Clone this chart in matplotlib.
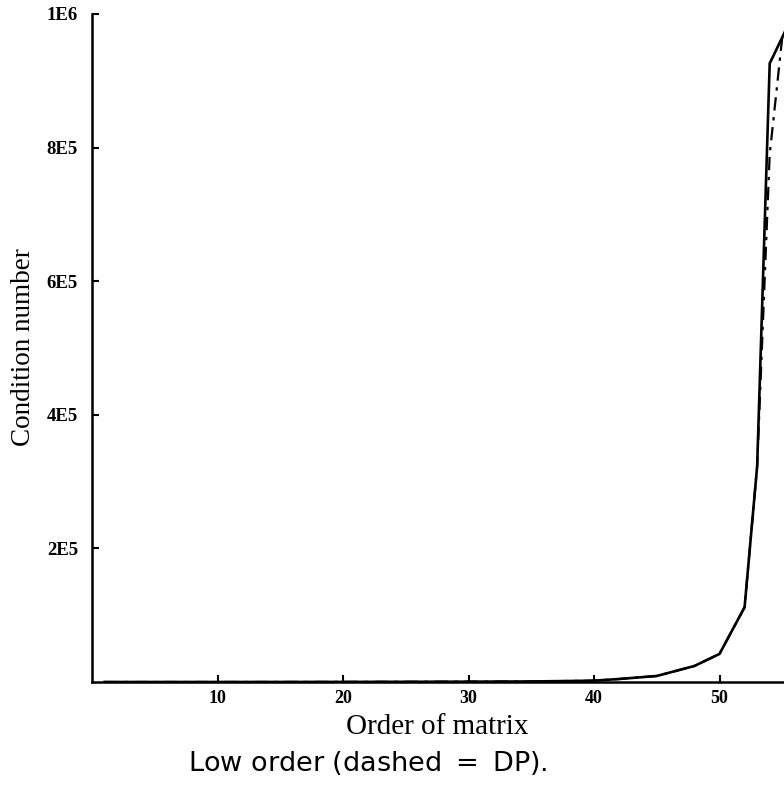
import matplotlib.pyplot as plt

# order of matrix and condition number (single precision = solid, DP = dash-dot)
order = [1, 5, 10, 15, 20, 25, 30, 35, 38, 40, 42, 45, 48, 50, 52, 53, 54, 55, 56]
cond_sp = [1, 5, 20, 60, 150, 300, 500, 800, 1500, 2000, 4500, 9000, 24000, 42000,
           112000, 323000, 926000, 965000, 1005000]
cond_dp = [1, 5, 20, 60, 150, 300, 500, 800, 1500, 2000, 4500, 9000, 24000, 42000,
           112000, 323000, 790000, 965000, 1005000]

yticks = [200000, 400000, 600000, 800000, 1000000]
ytick_labels = ['2E5', '4E5', '6E5', '8E5', '1E6']
xticks = [10, 20, 30, 40, 50]

serif = 'Liberation Serif'

fig = plt.figure(figsize=(7.84, 7.86), dpi=100)
ax = fig.add_axes([92 / 784, 104 / 786, 753 / 784, 668 / 786])

ax.plot(order, cond_sp, color='black', linewidth=1.9, solid_joinstyle='miter')
ax.plot(order, cond_dp, color='black', linewidth=1.6, linestyle=(0, (6, 3, 1.5, 3)))

ax.set_xlim(0, 60)
ax.set_ylim(0, 1000000)
ax.spines['top'].set_visible(False)
ax.spines['right'].set_visible(False)
ax.spines['left'].set_linewidth(1.8)
ax.spines['bottom'].set_linewidth(1.8)

ax.set_xticks(xticks)
ax.set_xticklabels([str(v) for v in xticks], fontfamily=serif, fontweight='bold', fontsize=13)
ax.set_yticks(yticks)
ax.set_yticklabels(ytick_labels, fontfamily=serif, fontweight='bold', fontsize=13.5)
ax.tick_params(axis='x', direction='in', length=5, width=1.5, pad=6)
ax.tick_params(axis='y', direction='in', length=5, width=1.5, pad=10)

ax.set_xlabel('Order of matrix', fontfamily=serif, fontsize=21, va='center')
ax.xaxis.set_label_coords((437 - 92) / 753, -45 / 668)
ax.set_ylabel('Condition number', fontfamily=serif, fontsize=19.5, va='center')
ax.yaxis.set_label_coords(-(92 - 24) / 753, (682 - 347) / 668)

fig.text(368 / 784, 1 - 763 / 786, 'Low order (dashed $=$ DP).', ha='center', va='center',
         fontfamily='DejaVu Sans', fontsize=19.5)

fig.savefig('out.png', dpi=100)
